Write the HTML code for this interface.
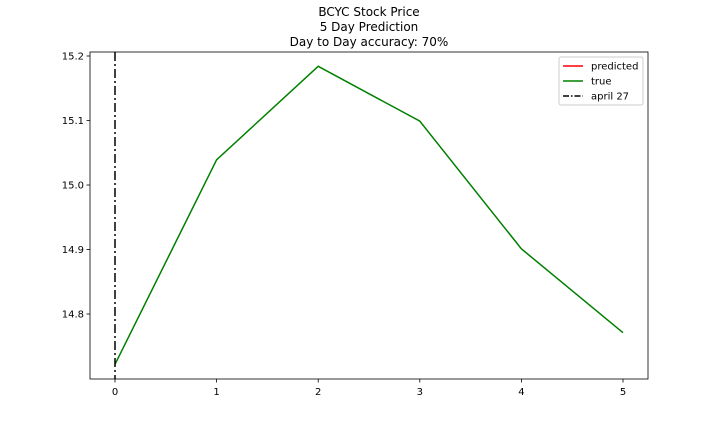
<!DOCTYPE html>
<html><head><meta charset="utf-8"><style>
body{margin:0;background:#fff;font-family:"Liberation Sans","DejaVu Sans",sans-serif;}
svg text{font-family:"DejaVu Sans","Liberation Sans",sans-serif;}
</style></head><body>
<svg id="c" width="720" height="432" xmlns="http://www.w3.org/2000/svg">
<g font-size="12" text-anchor="middle" fill="#000">
<text x="369" y="16">BCYC Stock Price</text>
<text x="369" y="31">5 Day Prediction</text>
<text x="369" y="46">Day to Day accuracy: 70%</text>
</g>
<g id="plot"></g>
</svg>
<script>
const days=[0,1,2,3,4,5];
const trueVals=[14.722,15.039,15.184,15.099,14.901,14.771];
const xTicks=[0,1,2,3,4,5];
const yTicks=[14.8,14.9,15.0,15.1,15.2];
const vlineDay=0;
const L=90,R=648,T=52,B=379;
const xs=d=>115+(d-0)*101.6;
const ys=v=>56+(15.2-v)*645;
const NS="http://www.w3.org/2000/svg";
const g=document.getElementById('plot');
function mk(t,a,p){const e=document.createElementNS(NS,t);for(const k in a)e.setAttribute(k,a[k]);(p||g).appendChild(e);return e;}
let fr=mk('rect',{x:L,y:T,width:R-L,height:B-T,fill:'none',stroke:'#000','stroke-width':0.8});


xTicks.forEach(t=>{const x=xs(t);
 let l=mk('line',{x1:x,x2:x,y1:B,y2:B+3.5,stroke:'#000','stroke-width':0.8});
 
 
 let tx=mk('text',{x:x,y:B+16,'font-size':10,'text-anchor':'middle'});tx.textContent=t;
 
 });
yTicks.forEach(t=>{const y=ys(t);
 let l=mk('line',{x1:L-3.5,x2:L,y1:y,y2:y,stroke:'#000','stroke-width':0.8});
 
 
 let tx=mk('text',{x:L-6,y:y+3.5,'font-size':10,'text-anchor':'end'});tx.textContent=t.toFixed(1);
 
 });
let pl=mk('polyline',{points:days.map((d,i)=>xs(d)+','+ys(trueVals[i])).join(' '),fill:'none',stroke:'#008000','stroke-width':1.5});


let vl=mk('line',{x1:xs(vlineDay),x2:xs(vlineDay),y1:T,y2:B,stroke:'#000','stroke-width':1.5,'stroke-dasharray':'9,3,2,3'});


const lg=mk('g',{});


mk('rect',{x:559,y:57,width:84,height:48,rx:2,fill:'#fff',stroke:'#ccc'},lg);
const items=[['predicted','#ff0000',''],['true','#008000',''],['april 27','#000','6,2,1.5,2']];
items.forEach((it,i)=>{const y=66+i*15;
 let l=mk('line',{x1:563,x2:583,y1:y,y2:y,stroke:it[1],'stroke-width':1.5,'stroke-dasharray':it[2]||'none'},lg);
 
 
 let tx=mk('text',{x:591,y:y+3.5,'font-size':10},lg);tx.textContent=it[0];
 
 });
</script>
</body></html>
